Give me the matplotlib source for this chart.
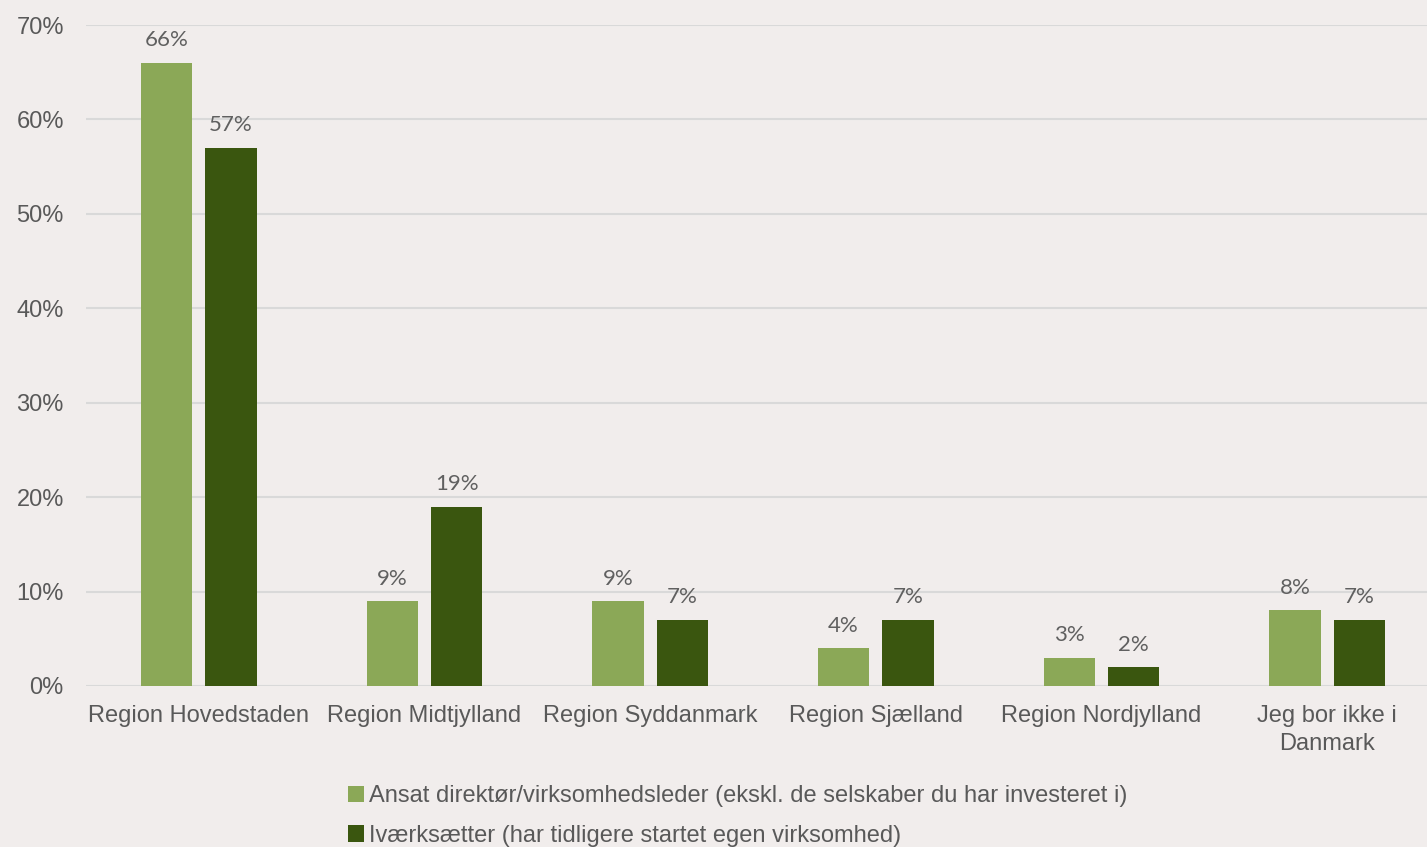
import numpy as np
import matplotlib.pyplot as plt

# ------------------#
# Data
# ------------------#

categories = ["Region Hovedstaden", "Region Midtjylland", "Region Syddanmark",
              "Region Sjælland", "Region Nordjylland", "Jeg bor ikke i\nDanmark"]
series_names = ["Ansat direktør/virksomhedsleder (ekskl. de selskaber du har investeret i)",
                "Iværksætter (har tidligere startet egen virksomhed)"]
director = [66, 9, 9, 4, 3, 8]
founder = [57, 19, 7, 7, 2, 7]
y_ticks = [0, 10, 20, 30, 40, 50, 60, 70]

bg = "#f1edec"
colors = ["#8ba857", "#3a560f"]
text_col = "#595959"

fig = plt.figure(figsize=(14.27, 8.47), dpi=100, facecolor=bg)
ax = fig.add_axes([86 / 1427, 1 - 686 / 847, 1354 / 1427, (686 - 25) / 847])
ax.set_facecolor(bg)

x = np.arange(len(categories))
width = 0.228
offset = 0.143

for vals, col, name, sgn in zip([director, founder], colors, series_names, [-1, 1]):
    bars = ax.bar(x + sgn * offset, vals, width, color=col, label=name, zorder=3)
    for b, v in zip(bars, vals):
        ax.annotate(f"{v}%", (b.get_x() + b.get_width() / 2, v), xytext=(0, 9),
                    textcoords="offset points", ha="center", va="bottom",
                    fontsize=16, color="#606060", family=["Lato", "DejaVu Sans"])

ax.set_xlim(-0.5, len(categories) - 0.5)
ax.set_ylim(0, 70)
ax.set_yticks(y_ticks)
ax.set_yticklabels([f"{t}%" for t in y_ticks])
ax.set_xticks(x)
ax.set_xticklabels(categories)
ax.yaxis.grid(True, color="#d9d9d9", linewidth=1.5, zorder=0)
ax.set_axisbelow(True)
for s in ax.spines.values():
    s.set_visible(False)
ax.tick_params(axis="both", length=0, labelsize=17, labelcolor=text_col)
ax.tick_params(axis="y", pad=16)
ax.tick_params(axis="x", pad=14)
for lab in ax.get_xticklabels() + ax.get_yticklabels():
    lab.set_family(["Liberation Sans", "DejaVu Sans"])
for lab in ax.get_xticklabels():
    lab.set_linespacing(1.35)

leg = fig.legend(loc="upper center", bbox_to_anchor=(0.517, 1 - 764 / 847), ncol=1,
                 frameon=False, handlelength=0.7, handleheight=0.7, handletextpad=0.2,
                 labelspacing=0.75,
                 prop={"family": ["Liberation Sans Narrow", "Liberation Sans"], "size": 17})
for t in leg.get_texts():
    t.set_color(text_col)

fig.savefig("out.png", dpi=100, facecolor=bg)
